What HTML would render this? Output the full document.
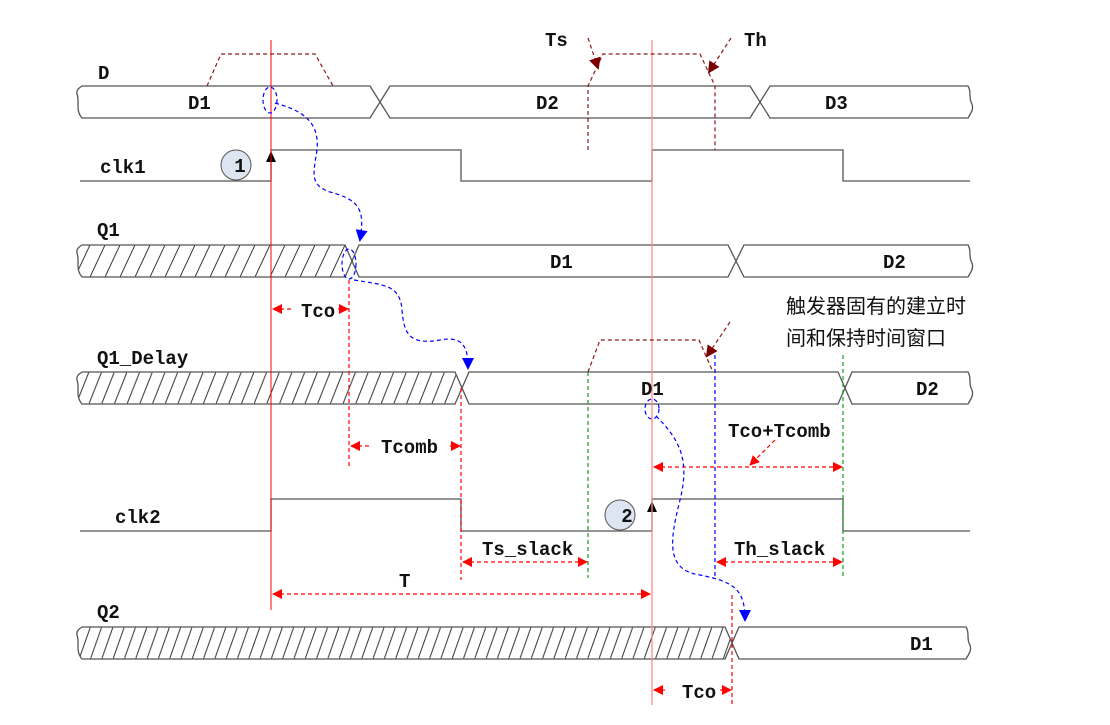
<!DOCTYPE html>
<html><head><meta charset="utf-8"><style>
html,body{margin:0;padding:0;background:#fff;}
svg{display:block;}
text{font-family:"Liberation Mono","Noto Sans CJK SC",monospace;font-weight:bold;font-size:19px;fill:#111;}
.cn{font-family:"Liberation Sans","Noto Sans CJK SC",sans-serif;font-weight:normal;font-size:20px;}
</style></head><body>
<svg width="1110" height="725" viewBox="0 0 1110 725" xmlns="http://www.w3.org/2000/svg">
<defs>
<pattern id="h1" patternUnits="userSpaceOnUse" width="15" height="32" x="0" y="245"><line x1="0" y1="32" x2="15" y2="0" stroke="#333" stroke-width="1"/></pattern>
<pattern id="h2" patternUnits="userSpaceOnUse" width="12.7" height="32" x="0" y="372"><line x1="0" y1="32" x2="12.7" y2="0" stroke="#333" stroke-width="1"/></pattern>
<pattern id="h3" patternUnits="userSpaceOnUse" width="11.3" height="32" x="0" y="627"><line x1="0" y1="32" x2="11.3" y2="0" stroke="#333" stroke-width="1"/></pattern>
<marker id="ar" markerWidth="10" markerHeight="10" refX="9" refY="5" orient="auto" markerUnits="userSpaceOnUse"><path d="M0,0 L10,5 L0,10 z" fill="#f00"/></marker>
<marker id="al" markerWidth="10" markerHeight="10" refX="1" refY="5" orient="auto" markerUnits="userSpaceOnUse"><path d="M10,0 L0,5 L10,10 z" fill="#f00"/></marker>
<marker id="ab" markerWidth="12" markerHeight="12" refX="10" refY="6" orient="auto" markerUnits="userSpaceOnUse"><path d="M0,0 L12,6 L0,12 z" fill="#00f"/></marker>
<marker id="abr" markerWidth="12" markerHeight="12" refX="10" refY="6" orient="auto" markerUnits="userSpaceOnUse"><path d="M0,0 L12,6 L0,12 z" fill="#7a0000"/></marker>
</defs>
<g stroke="#555" stroke-width="1.3" fill="none">
<path d="M82,86 L370,86 L380,102 L370,118 L82,118 C75,110 80,102 77,94 C76,90 79,88 82,86 Z"/>
<path d="M380,102 L390,86 L750,86 L760,102 L750,118 L390,118 Z"/>
<path d="M760,102 L770,86 L968,86 C972,92 968,98 972,104 C974,110 970,114 968,118 L770,118 Z"/>
<path d="M82,245 L345,245 L352,261 L345,277 L82,277 C75,269 80,261 77,253 C76,249 79,247 82,245 Z" fill="url(#h1)"/>
<path d="M352,261 L359,245 L728,245 L736,261 L728,277 L359,277 Z"/>
<path d="M736,261 L744,245 L968,245 C972,251 968,257 972,263 C974,269 970,273 968,277 L744,277 Z"/>
<path d="M82,372 L455,372 L462,388 L455,404 L82,404 C75,396 80,388 77,380 C76,376 79,374 82,372 Z" fill="url(#h2)"/>
<path d="M462,388 L469,372 L838,372 L845,388 L838,404 L469,404 Z"/>
<path d="M845,388 L852,372 L968,372 C972,378 968,384 972,390 C974,396 970,400 968,404 L852,404 Z"/>
<path d="M82,627 L725,627 L732,643 L725,659 L82,659 C75,651 80,643 77,635 C76,631 79,629 82,627 Z" fill="url(#h3)"/>
<path d="M732,643 L739,627 L966,627 C970,633 966,639 970,645 C972,651 968,655 966,659 L739,659 Z"/>
<path d="M80,181 L271,181 L271,150 L461,150 L461,181 L652,181 L652,150 L843,150 L843,181 L970,181"/>
<path d="M80,531 L271,531 L271,499 L461,499 L461,531 L652,531 L652,499 L843,499 L843,531 L970,531"/>
</g>
<path d="M266,162 L271,151 L276,162 z" fill="#000"/>
<path d="M647,512 L652,501 L657,512 z" fill="#000"/>
<circle cx="236" cy="165" r="15" fill="#dde5f2" stroke="#555"/>
<text x="240" y="172" text-anchor="middle">1</text>
<circle cx="620" cy="515" r="15" fill="#dde5f2" stroke="#555"/>
<text x="627" y="522" text-anchor="middle">2</text>
<line x1="271" y1="40" x2="271" y2="610" stroke="#f00" stroke-width="1"/>
<line x1="652" y1="40" x2="652" y2="705" stroke="#f88" stroke-width="1.3"/>
<g stroke="#8b1a1a" stroke-width="1.2" stroke-dasharray="4,3" fill="none">
<path d="M207,86 L221,54 L315,54 L333,86"/>
<path d="M588,150 L588,86 L603,54 L700,54 L715,86 L715,150"/>
<path d="M588,372 L600,340 L699,340 L713,372"/>
<line x1="588" y1="38" x2="598" y2="68" marker-end="url(#abr)"/>
<line x1="731" y1="38" x2="709" y2="72" marker-end="url(#abr)"/>
<line x1="730" y1="322" x2="707" y2="356" marker-end="url(#abr)"/>
</g>
<g stroke-width="1.2" stroke-dasharray="4,3" fill="none">
<line x1="588" y1="372" x2="588" y2="578" stroke="#1a9a1a"/>
<line x1="843" y1="355" x2="843" y2="578" stroke="#1a9a1a"/>
<line x1="715" y1="355" x2="715" y2="578" stroke="#00f"/>
</g>
<g stroke="#f00" stroke-width="1.2" stroke-dasharray="4,3" fill="none">
<line x1="349" y1="280" x2="349" y2="468"/>
<line x1="461" y1="388" x2="461" y2="580"/>
<line x1="732" y1="595" x2="732" y2="705"/>
<line x1="273" y1="309" x2="292" y2="309" marker-start="url(#al)"/>
<line x1="338" y1="309" x2="348" y2="309" marker-end="url(#ar)"/>
<line x1="351" y1="446" x2="370" y2="446" marker-start="url(#al)"/>
<line x1="450" y1="446" x2="460" y2="446" marker-end="url(#ar)"/>
<line x1="463" y1="562" x2="587" y2="562" marker-start="url(#al)" marker-end="url(#ar)"/>
<line x1="717" y1="562" x2="842" y2="562" marker-start="url(#al)" marker-end="url(#ar)"/>
<line x1="273" y1="594" x2="650" y2="594" marker-start="url(#al)" marker-end="url(#ar)"/>
<line x1="654" y1="467" x2="842" y2="467" marker-start="url(#al)" marker-end="url(#ar)"/>
<line x1="775" y1="440" x2="750" y2="465" marker-end="url(#ar)"/>
<line x1="654" y1="690" x2="668" y2="690" marker-start="url(#al)"/>
<line x1="720" y1="690" x2="731" y2="690" marker-end="url(#ar)"/>
</g>
<g stroke="#00f" stroke-width="1.2" stroke-dasharray="4,3" fill="none">
<ellipse cx="270" cy="100" rx="7" ry="13"/>
<ellipse cx="349" cy="264" rx="7" ry="15"/>
<ellipse cx="652" cy="409" rx="7" ry="10"/>
<path d="M275,103 C300,110 320,120 317,150 C313,175 310,185 330,192 C360,200 365,210 360,240" marker-end="url(#ab)"/>
<path d="M354,280 C385,285 400,285 402,310 C404,335 410,345 440,340 C465,335 468,350 468,368" marker-end="url(#ab)"/>
<path d="M656,416 C680,440 690,460 680,500 C670,540 665,570 700,575 C735,582 745,590 745,620" marker-end="url(#ab)"/>
</g>
<text x="98" y="79">D</text>
<text x="188" y="109">D1</text>
<text x="536" y="109">D2</text>
<text x="825" y="109">D3</text>
<text x="545" y="46">Ts</text>
<text x="744" y="46">Th</text>
<text x="100" y="173">clk1</text>
<text x="97" y="236">Q1</text>
<text x="550" y="268">D1</text>
<text x="883" y="268">D2</text>
<text x="301" y="317">Tco</text>
<text class="cn" x="786" y="313">触发器固有的建立时</text>
<text class="cn" x="786" y="345">间和保持时间窗口</text>
<text x="97" y="364">Q1_Delay</text>
<text x="641" y="395">D1</text>
<text x="916" y="395">D2</text>
<text x="381" y="453">Tcomb</text>
<text x="728" y="437">Tco+Tcomb</text>
<text x="115" y="523">clk2</text>
<text x="482" y="555">Ts_slack</text>
<text x="734" y="555">Th_slack</text>
<text x="399" y="587">T</text>
<text x="97" y="618">Q2</text>
<text x="910" y="650">D1</text>
<text x="682" y="698">Tco</text>
</svg>
</body></html>
